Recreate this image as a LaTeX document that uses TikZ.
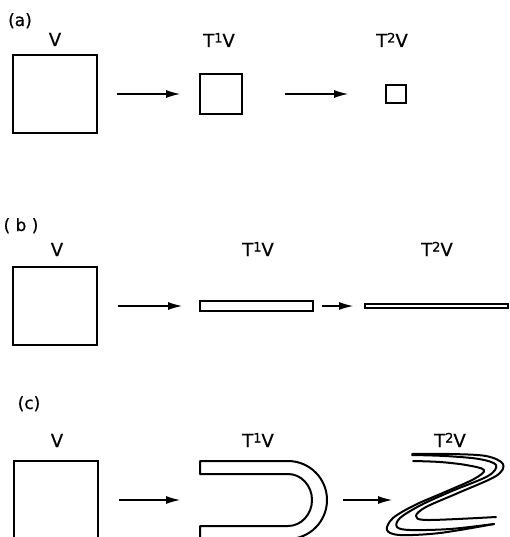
\documentclass[tikz,border=0pt]{standalone}
\usepackage{fontspec}
\setmainfont{DejaVu Sans}[FakeBold=0.6]
\usepackage{tikz}
\usetikzlibrary{arrows.meta,positioning}

\newcommand{\supnum}[1]{\raisebox{4.5pt}{\fontsize{13}{13}\selectfont #1}}

\begin{document}
\begin{tikzpicture}[
      x=1pt, y=-1pt, % coordenadas em pixels, y para baixo
      box/.style={rectangle, draw, line width=2pt, inner sep=0pt, outer sep=0pt},
      area/.style={rectangle, inner sep=0pt, outer sep=0pt},
      setlabel/.style={font=\fontsize{18}{20}\selectfont, anchor=base, inner sep=0pt},
      tag/.style={font=\fontsize{17}{20}\selectfont, anchor=base, inner sep=0pt},
      map/.style={-{Latex[length=14pt,width=8pt]}, line width=1.1pt},
      fold/.style={line width=2pt, line cap=round, line join=round},
  ]
      \useasboundingbox (0,0) rectangle (509,537);
      \clip (0,0) rectangle (509,537);

      % --- LINHA (a) ---
      \node[tag] (taga) at (20,26) {(a)};
      \node[box, minimum width=84pt, minimum height=78pt] (va) at (55,94) {};
      \node[box, minimum width=42pt, minimum height=40pt] (t1a) at (221,94) {};
      \node[box, minimum width=20pt, minimum height=18pt] (t2a) at (396,94) {};

      \node[setlabel] (lva) at (55,46) {V};
      \node[setlabel] (lt1a) at (219,47) {T\supnum{1}V};
      \node[setlabel] (lt2a) at (392,47) {T\supnum{2}V};

      \draw[map, shorten <=20pt, shorten >=20pt] (va) -- (t1a);
      \draw[map, shorten <=43pt, shorten >=38pt] (t1a) -- (t2a);

      % --- LINHA (b) ---
      \node[tag] (tagb) at (21,231) {( b )};
      \node[box, minimum width=84pt, minimum height=78pt] (vb) at (55,306) {};
      \node[box, minimum width=113pt, minimum height=10pt] (t1b) at (256.5,306) {};
      \node[box, minimum width=143pt, minimum height=4pt] (t2b) at (436.5,306) {};

      \node[setlabel] (lvb) at (57,256) {V};
      \node[setlabel] (lt1b) at (258,256) {T\supnum{1}V};
      \node[setlabel] (lt2b) at (437,256) {T\supnum{2}V};

      \draw[map, shorten <=21pt, shorten >=18pt] (vb) -- (t1b);
      \draw[map, shorten <=9pt, shorten >=12pt] (t1b) -- (t2b);

      % --- LINHA (c) ---
      \node[tag] (tagc) at (29,409) {(c)};
      \node[box, minimum width=84pt, minimum height=78pt] (vc) at (56,500) {};
      \node[area, minimum width=127pt, minimum height=78pt] (t1c) at (263.5,500) {};
      \node[area, minimum width=114pt, minimum height=82pt] (t2c) at (449,500) {};

      \node[setlabel] (lvc) at (57,447) {V};
      \node[setlabel] (lt1c) at (258,447) {T\supnum{1}V};
      \node[setlabel] (lt2c) at (450,447) {T\supnum{2}V};

      % ferradura
      \draw[line width=2pt, line join=round]
        (200,461) -- (288,461) arc[start angle=-90, end angle=90, radius=39]
        -- (200,539) -- (200,526) -- (288,526)
        arc[start angle=90, end angle=-90, x radius=24, y radius=26]
        -- (200,474) -- cycle;

      % dobra em Z
      \draw[fold] plot[smooth, tension=0.55] coordinates {(412,454) (450,454) (486,456)
        (503,464) (496,476) (458,493) (426,507) (416,516) (428,520) (496,517)};
      \draw[fold] plot[smooth, tension=0.55] coordinates {(412,455) (445,456) (479,459)
        (496,465) (488,476) (452,491) (421,505) (400,518) (397,527) (410,530) (450,529) (494,524)};
      \draw[fold] plot[smooth, tension=0.55] coordinates {(413,461) (440,462) (466,465)
        (484,470) (474,479) (445,492) (415,505) (393,518) (387,530) (400,535) (440,533) (494,524)};

      \draw[map, shorten <=21pt, shorten >=20pt] (vc) -- (t1c);
      \draw[map, shorten <=16pt] (t1c) -- (t2c);

  \end{tikzpicture}
\end{document}
